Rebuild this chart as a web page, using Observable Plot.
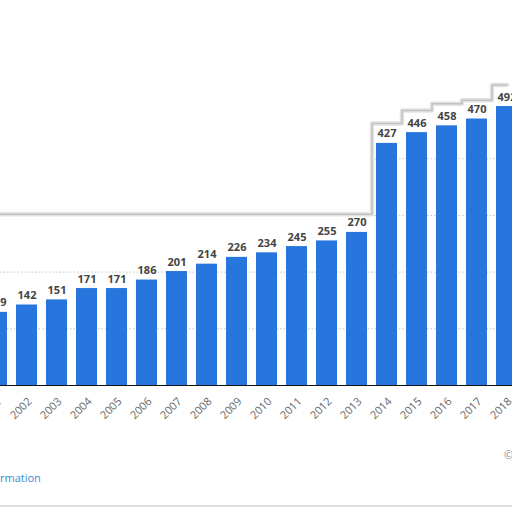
<!DOCTYPE html>
<html>
<head>
<meta charset="utf-8">
<script src="https://cdn.jsdelivr.net/npm/d3@7"></script>
<script src="https://cdn.jsdelivr.net/npm/@observablehq/plot@0.6"></script>
<style>
  html, body { margin: 0; padding: 0; background: #fff; overflow: hidden; }
  #wrap { position: relative; width: 512px; height: 512px; overflow: hidden; }
  #chart svg { display: block; }
  .note { position: absolute; font-family: "Open Sans", sans-serif; }
</style>
</head>
<body>
<div id="wrap">
  <div id="chart"></div>
  <div class="note" style="left:0px; top:470px; font-size:11px; color:#3b8bd0;">rmation</div>
  <div class="note" style="left:504px; top:447px; font-size:11px; color:#888;">©</div>
  <div style="position:absolute; left:0; top:505px; width:512px; height:2px; background:#dcdcdc;"></div>
</div>
<script>
const years = ["2001","2002","2003","2004","2005","2006","2007","2008","2009","2010","2011","2012","2013","2014","2015","2016","2017","2018"];
const values = [129, 142, 151, 171, 171, 186, 201, 214, 226, 234, 245, 255, 270, 427, 446, 458, 470, 492];
// top edge of the whitish overlay in the screenshot, per year (estimated)
const maskTop = [302, 302, 302, 302, 302, 302, 302, 302, 302, 302, 302, 302, 302, 462, 485, 497, 503, 530];
const gridTicks = [100, 200, 300, 400];

const data = years.map((y, i) => ({year: y, value: values[i], mask: maskTop[i]}));

const chart = Plot.plot({
  width: 512,
  height: 512,
  marginTop: 101.5,
  marginBottom: 127,
  marginLeft: 0,
  marginRight: 0,
  style: {background: "#fff", overflow: "hidden"},
  x: {domain: years, range: [-22.48, 525.8], padding: 0.31, paddingOuter: 0.155, label: null, axis: null},
  y: {domain: [0, 500], label: null, axis: null},
  marks: [
    Plot.gridY(gridTicks, {stroke: "#c4c4c4", strokeOpacity: 1, strokeDasharray: "1.5,2"}),
    Plot.barY(data, {x: "year", y: "value", fill: "#2876dd"}),
    Plot.barY(data, {x: "year", y1: "mask", y2: 700, fill: "#fff", insetLeft: -5, insetRight: -5}),
    Plot.lineY(data, {x: "year", y: "mask", curve: "step", stroke: "#e4e4e4", strokeWidth: 4.5}),
    Plot.lineY(data, {x: "year", y: "mask", curve: "step", stroke: "#c2c2c2", strokeWidth: 1.5}),
    Plot.text(data, {x: "year", y: "value", text: d => String(d.value), lineAnchor: "bottom", dy: -6,
      fill: "#444", fontSize: 11, fontWeight: "bold", fontFamily: "Open Sans"}),
    Plot.ruleY([0], {stroke: "#111", strokeWidth: 1}),
    Plot.text(years, {x: d => d, y: () => 0, text: d => d, rotate: -45, textAnchor: "end", lineAnchor: "middle",
      dx: 3, dy: 14, fontSize: 11, fill: "#666", fontFamily: "Open Sans"})
  ]
});
document.getElementById("chart").appendChild(chart);
</script>
</body>
</html>
